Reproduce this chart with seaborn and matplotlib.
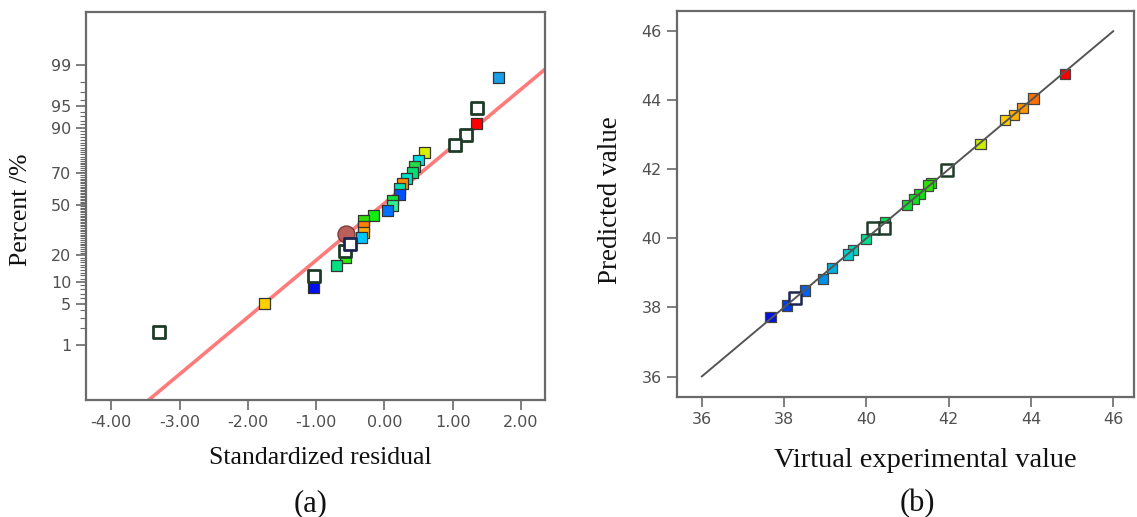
import numpy as np
import pandas as pd
import seaborn as sns
import matplotlib.pyplot as plt
from statistics import NormalDist

# (a) normal probability plot of standardized residuals
RESID = [1.67, 1.36, 1.35, 1.19, 1.035, 0.59, 0.50, 0.445, 0.41, 0.32, 0.26, 0.225, 0.225,
         0.12, 0.12, 0.04, -0.155, -0.30, -0.30, -0.30, -0.33, -0.56, -0.505, -0.58,
         -0.57, -0.70, -1.03, -1.04, -1.75, -3.30]
PERCENT = [98.3, 94.7, 91.2, 87.8, 84.1, 81.0, 77.3, 73.9, 70.5, 67.2, 64.1, 60.5, 57.1,
           53.3, 49.6, 46.2, 42.9, 39.7, 35.9, 32.3, 29.3, 31.2, 25.8, 22.3,
           19.2, 15.5, 11.8, 8.4, 5.05, 1.7]
COLORS_A = ['#1aa0e8', 'open', '#ff0000', 'open', 'open', '#d8f000', '#00e0e8', '#22dd44',
            '#00e070', '#00e0c8', '#ff8c00', '#00e0b0', '#0050ff', '#10e040', '#30f090',
            '#0070ff', '#10ee10', '#30dd00', '#ff8000', '#ffaa00', '#00c8ff', 'circle',
            'open_navy', 'open', '#30ee00', '#00e080', 'open', '#0010f0', '#ffd000', 'open']
PERCENT_TICKS = [1, 5, 10, 20, 50, 70, 90, 95, 99]
RESID_TICKS = [-4, -3, -2, -1, 0, 1, 2]
# reference line of the normal plot
LINE_MU, LINE_SD = -0.03, 1.053

# (b) predicted vs. virtual experimental values
ACTUAL = [44.82, 44.06, 43.79, 43.58, 43.37, 42.77, 41.95, 41.57, 41.50, 41.29, 41.15, 40.98,
          40.46, 40.44, 40.16, 39.99, 39.68, 39.56, 39.16, 38.95, 38.51, 38.27, 38.07, 37.67]
PREDICTED = [44.76, 44.05, 43.77, 43.57, 43.43, 42.73, 41.98, 41.60, 41.53, 41.28, 41.14, 40.97,
             40.46, 40.30, 40.30, 39.99, 39.67, 39.53, 39.14, 38.83, 38.49, 38.27, 38.06, 37.72]
COLORS_B = ['#ff0000', '#ff7000', '#ff9600', '#ffb000', '#ffd000', '#ccee00', 'open',
            '#20e000', '#30e000', '#10e010', '#10e020', '#10e030', '#00e050', 'open', 'open',
            '#00e090', '#00d8c0', '#00d0d0', '#00b0e0', '#0090e8', '#0060f0', 'open_navy',
            '#0040e8', '#0010e0']
B_TICKS = [36, 38, 40, 42, 44, 46]

sns.set_theme(style='white')
plt.rcParams['font.family'] = ['DejaVu Sans']

nd = NormalDist()
to_z = lambda p: nd.inv_cdf(p / 100.0)

fig = plt.figure(figsize=(11.37, 5.17), dpi=100)
ax1 = fig.add_axes([0.0756, 0.2263, 0.4037, 0.7511])
ax2 = fig.add_axes([0.595, 0.2315, 0.402, 0.7472])

SPINE = '#6a6a6a'
TICKC = '#505050'
serif = ['Liberation Serif', 'DejaVu Serif']


def style_axes(ax):
    for s in ax.spines.values():
        s.set_color(SPINE)
        s.set_linewidth(1.6)
    ax.tick_params(axis='both', which='major', direction='out', length=7, width=1.2,
                   color=SPINE, labelsize=11.5, labelcolor=TICKC, left=True, bottom=True)
    ax.tick_params(axis='y', which='minor', direction='out', length=4, width=0.8,
                   color=SPINE, left=True)


# ---- panel (a)
df_a = pd.DataFrame({'resid': RESID, 'z': [to_z(p) for p in PERCENT], 'color': COLORS_A})
filled = df_a[~df_a['color'].isin(['open', 'open_navy', 'circle'])]
r_line = np.array([-4.37, 2.35])
ax1.plot(r_line, (r_line - LINE_MU) / LINE_SD, color='#ff7b7b', lw=2.6, zorder=1)
sns.scatterplot(data=filled, x='resid', y='z', hue='color',
                palette={c: c for c in filled['color']}, marker='s', s=62,
                edgecolor='#333333', linewidth=0.9, legend=False, ax=ax1, zorder=3)
for kind, ec in [('open', '#1e3b28'), ('open_navy', '#1c2550')]:
    sub = df_a[df_a['color'] == kind]
    sns.scatterplot(data=sub, x='resid', y='z', marker='s', s=85, color='white',
                    edgecolor=ec, linewidth=2.0, legend=False, ax=ax1, zorder=4)
circ = df_a[df_a['color'] == 'circle']
sns.scatterplot(data=circ, x='resid', y='z', marker='o', s=150, color='#bb5f5b',
                edgecolor='#7a3c3a', linewidth=1.0, legend=False, ax=ax1, zorder=3)

ax1.set_xlim(-4.37, 2.35)
ax1.set_ylim(-3.25, 3.22)
ax1.set_xticks(RESID_TICKS)
ax1.set_xticklabels([f'{v:.2f}' for v in RESID_TICKS])
ax1.set_yticks([to_z(p) for p in PERCENT_TICKS])
ax1.set_yticklabels([str(p) for p in PERCENT_TICKS])
ax1.set_yticks([to_z(p) for p in range(1, 100) if p not in PERCENT_TICKS], minor=True)
style_axes(ax1)
ax1.set_xlabel('Standardized residual', family=serif, fontsize=18.5, color='#111111')
ax1.set_ylabel('Percent /%', family=serif, fontsize=18.5, color='#111111')
ax1.xaxis.set_label_coords(0.51, -0.122)
ax1.yaxis.set_label_coords(-0.118, 0.49)

# ---- panel (b)
df_b = pd.DataFrame({'actual': ACTUAL, 'pred': PREDICTED, 'color': COLORS_B})
filled_b = df_b[~df_b['color'].isin(['open', 'open_navy'])]
ax2.plot([36, 46], [36, 46], color='#555555', lw=1.4, zorder=5)
sns.scatterplot(data=filled_b, x='actual', y='pred', hue='color',
                palette={c: c for c in filled_b['color']}, marker='s', s=55,
                edgecolor='#444444', linewidth=0.9, legend=False, ax=ax2, zorder=3)
for kind, ec in [('open', '#1e3b28'), ('open_navy', '#1c2550')]:
    sub = df_b[df_b['color'] == kind]
    sns.scatterplot(data=sub, x='actual', y='pred', marker='s', s=80, color='white',
                    edgecolor=ec, linewidth=1.8, legend=False, ax=ax2, zorder=4)
ax2.set_xlim(35.39, 46.49)
ax2.set_ylim(35.40, 46.58)
ax2.set_xticks(B_TICKS)
ax2.set_yticks(B_TICKS)
style_axes(ax2)
ax2.set_xlabel('Virtual experimental value', family=serif, fontsize=20.5, color='#111111')
ax2.set_ylabel('Predicted value', family=serif, fontsize=19.5, color='#111111')
ax2.xaxis.set_label_coords(0.545, -0.13)
ax2.yaxis.set_label_coords(-0.118, 0.51)

fig.text(0.273, 0.012, '(a)', family=serif, fontsize=22, color='#111111', ha='center')
fig.text(0.807, 0.012, '(b)', family=serif, fontsize=22, color='#111111', ha='center')

fig.savefig('out.png', dpi=100)
